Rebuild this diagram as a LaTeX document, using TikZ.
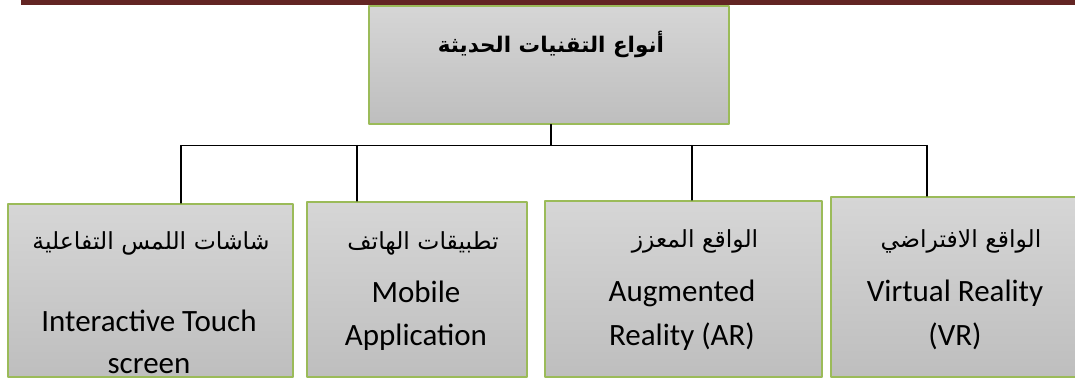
\documentclass[tikz,border=0pt]{standalone}
\usepackage{fontspec}
\setmainfont{Carlito}
\newfontfamily\arabicfont[Script=Arabic]{DejaVu Sans}
\TeXXeTstate=1
\definecolor{barred}{HTML}{632523}
\definecolor{boxgreen}{HTML}{9BBB59}
\definecolor{boxtop}{HTML}{D6D6D6}
\definecolor{boxbottom}{HTML}{BEBEBE}

\begin{document}
\begin{tikzpicture}[line cap=round, line join=round, x=1pt, y=-1pt,
    techbox/.style={draw=boxgreen, line width=2pt, top color=boxtop, bottom color=boxbottom,
        inner sep=0pt, anchor=north west},
    titletext/.style={font=\arabicfont\bfseries\fontsize{21.5}{26}\selectfont, anchor=base, inner sep=0pt},
    artext/.style={font=\arabicfont\fontsize{23.5}{28}\selectfont, anchor=base, inner sep=0pt},
    entext/.style={font=\fontsize{31}{37}\selectfont, anchor=base, inner sep=0pt},
    link/.style={line width=1.3pt}]
                \useasboundingbox (0,0) rectangle (1075,381);
                \clip (0,0) rectangle (1075,381);
                \fill[barred] (21,0) rectangle (1075,4.5);
                % boxes
                \node[techbox, minimum width=360pt, minimum height=118pt] (kinds) at (368,4.5) {};
                \node[techbox, minimum width=285pt, minimum height=173pt] (touch) at (7,203) {};
                \node[techbox, minimum width=220pt, minimum height=175pt] (mobile) at (306,201) {};
                \node[techbox, minimum width=277pt, minimum height=176pt] (augmented) at (544,200) {};
                \node[techbox, minimum width=250pt, minimum height=180pt] (virtual) at (830,196) {};
                % tree lines
                \coordinate (bus) at (551,145.5);
                \coordinate (j1) at (181,145.5);
                \coordinate (j2) at (357,145.5);
                \coordinate (j3) at (692,145.5);
                \coordinate (j4) at (927,145.5);
                \draw[link] (bus |- kinds.south) -- (bus);
                \draw[link] (j1) -- (j4);
                \foreach \j/\tech in {1/touch, 2/mobile, 3/augmented, 4/virtual}
                    \draw[link] (j\j) -- (j\j |- \tech.north);
                % labels
                \node[titletext] (kinds-ar) at (551,52) {\beginR أنواع التقنيات الحديثة\endR};
                \node[artext] (touch-ar) at (151,249) {\beginR شاشات اللمس التفاعلية\endR};
                \node[entext] (touch-en) at (149,331) {Interactive Touch};
                \node[entext] (touch-en2) at (149,373) {screen};
                \node[artext] (mobile-ar) at (423,249) {\beginR تطبيقات الهاتف\endR};
                \node[entext] (mobile-en) at (416,302) {Mobile};
                \node[entext] (mobile-en2) at (416,345) {Application};
                \node[artext] (augmented-ar) at (695,247) {\beginR الواقع المعزز\endR};
                \node[entext] (augmented-en) at (682,301) {Augmented};
                \node[entext] (augmented-en2) at (682,345) {Reality (AR)};
                \node[artext] (virtual-ar) at (961,247) {\beginR الواقع الافتراضي\endR};
                \node[entext] (virtual-en) at (955,301) {Virtual Reality};
                \node[entext] (virtual-en2) at (955,345) {(VR)};
            \end{tikzpicture}
\end{document}
